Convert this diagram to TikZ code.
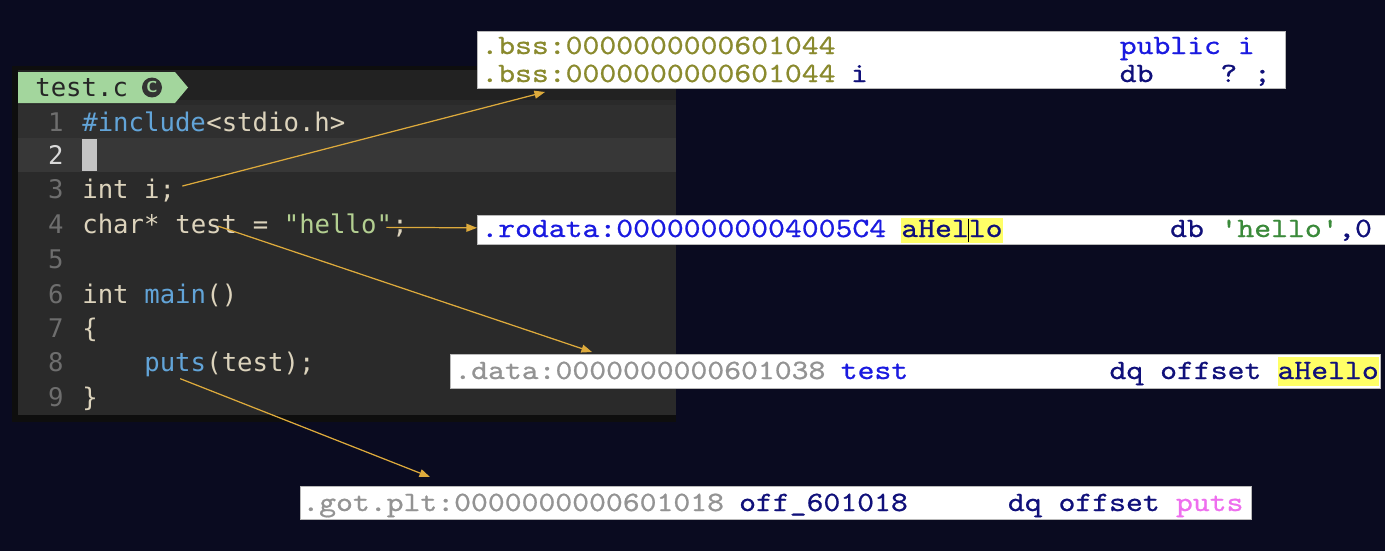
\documentclass[tikz,border=0pt]{standalone}
\usepackage{fontspec}
\newfontfamily\edfont{DejaVu Sans Mono}
\newfontfamily\idafont[Extension=.otf, FakeStretch=1.15, FakeBold=0.7]{lmmono10-regular}
\usetikzlibrary{calc,arrows.meta}

\definecolor{bgnavy}{HTML}{0A0B20}
\definecolor{edframe}{HTML}{0E0E0E}
\definecolor{edbar}{HTML}{222222}
\definecolor{edback}{HTML}{2A2A2A}
\definecolor{edrowa}{HTML}{2F2F2F}
\definecolor{edrowb}{HTML}{373737}
\definecolor{tabgreen}{HTML}{A3D69D}
\definecolor{codebeige}{HTML}{DCD3BC}
\definecolor{codeblue}{HTML}{62A4D8}
\definecolor{codegreen}{HTML}{B3CF91}
\definecolor{numgray}{HTML}{6E6E6E}
\definecolor{curgray}{HTML}{C4C4C4}
\definecolor{idaolive}{HTML}{8A8A2E}
\definecolor{idablue}{HTML}{1A1AE0}
\definecolor{idanavy}{HTML}{10107A}
\definecolor{idagreen}{HTML}{3A8A3A}
\definecolor{idagray}{HTML}{939393}
\definecolor{idapink}{HTML}{EE6EEE}
\definecolor{idayellow}{HTML}{FFFF66}
\definecolor{arrowgold}{HTML}{DDAA3C}

\tikzstyle{code} = [anchor=base west, inner sep=0pt, font=\edfont\fontsize{14.6}{17}\selectfont]
\tikzstyle{lineno} = [anchor=base east, inner sep=0pt, font=\edfont\fontsize{14.6}{17}\selectfont, text=numgray]
\tikzstyle{ida} = [anchor=base west, inner sep=0pt, font=\idafont\fontsize{15.9}{18}\selectfont]
\tikzstyle{idabox} = [anchor=north west, draw=gray!55, fill=white, line width=0.6pt, inner sep=0pt]
\tikzstyle{hilite} = [fill=idayellow, text=idanavy]
\tikzstyle{arrowdecorate}=[-{Triangle[length=6pt,width=4.5pt]},draw=arrowgold,fill=arrowgold,line width=0.7pt]

\begin{document}
\begin{tikzpicture}[x=0.02cm,y=-0.02cm]
      % background
      \fill[bgnavy] (0,0) rectangle (1385,551);
      \useasboundingbox (0,0) rectangle (1385,551);

      % editor window
      \fill[edframe] (12,66) rectangle (676,422);
      \fill[edbar] (18,70) rectangle (676,100);
      \fill[edback] (18,100) rectangle (676,415);
      \fill[edrowa] (18,105) rectangle (676,138);
      \fill[edrowb] (18,138) rectangle (676,172);
      \fill[tabgreen] (18,72) -- (175,72) -- (188,87.5) -- (175,103) -- (18,103) -- cycle;
      \node[code, text=black!85] (tab) at (35,96) {test.c};
      \node[circle, fill=black!80, inner sep=0pt, minimum size=0.4cm, text=tabgreen,
            font=\sffamily\bfseries\small] (cicon) at (152,87.5) {C};
      \fill[curgray] (82,139) rectangle (97,171);

      % line numbers
      \foreach \n/\y in {1/131, 3/198, 4/233, 5/268, 6/303, 7/337, 8/371, 9/406}
        \node[lineno] (n\n) at (64,\y) {\n};
      \node[lineno, text=black!15] (n2) at (64,164) {2};

      % source tokens
      \foreach \name/\col/\y/\clr/\txt in {
        incl/0/131/codeblue/{\#include}, hdr/8/131/codebeige/{<stdio.h>},
        vari/0/198/codebeige/{int i;},
        ptr/0/233/codebeige/{char*}, l4test/6/233/codebeige/{test},
        eq/11/233/codebeige/{=}, l4str/13/233/codegreen/{\char34hello\char34},
        semi/20/233/codebeige/{;},
        kint/0/303/codebeige/{int}, kmain/4/303/codeblue/{main}, paren/8/303/codebeige/{()},
        lbrace/0/337/codebeige/{\{},
        l8puts/4/371/codeblue/{puts}, call/8/371/codebeige/{(test);},
        rbrace/0/406/codebeige/{\}}}
      {
        \node[code, text=\clr] (\name) at (82+\col*15.5,\y) {\txt};
      }

      % disassembly boxes
      \node[idabox, minimum width=16.16cm, minimum height=1.14cm] (bssbox) at (477,31) {};
      \node[idabox, minimum width=18.16cm, minimum height=0.58cm] (rodbox) at (477,215) {};
      \node[idabox, minimum width=18.6cm, minimum height=0.68cm] (databox) at (450,354) {};
      \node[idabox, minimum width=19.02cm, minimum height=0.66cm] (gotbox) at (300,486) {};

      \node[ida, hilite, text height=0.38cm, text depth=0.12cm] (ahello) at (901,237) {aHello};
      \node[ida, hilite, text height=0.44cm, text depth=0.14cm] (dhello) at (1277.2,379) {aHello};
      \draw[black, line width=0.6pt] ($(ahello.south west)+(67.2,-1)$) -- ($(ahello.north west)+(67.2,1)$);

      \foreach \name/\x/\y/\clr/\txt in {
        bssa/481/54/idaolive/{.bss:0000000000601044}, pubi/1119.4/54/idablue/{public i},
        bssb/481/82/idaolive/{.bss:0000000000601044}, bssi/850.6/82/idanavy/{i},
        bssdb/1119.4/82/idanavy/{db}, bssq/1220/82/idanavy/{?}, bsss/1253.6/82/idanavy/{;},
        rod/481/237/idablue/{.rodata:00000000004005C4}, roddb/1169.8/237/idanavy/{db},
        rodstr/1220.2/237/idagreen/{\char39hello\char39}, rodz/1337.8/237/idanavy/{,0},
        dat/454/379/idagray/{.data:0000000000601038}, dtest/840.4/379/idablue/{test},
        ddq/1109.2/379/idanavy/{dq offset},
        got/302/511/idagray/{.got.plt:0000000000601018}, goff/738.8/511/idanavy/{off\_601018},
        gdq/1007.6/511/idanavy/{dq offset}, gputs/1175.6/511/idapink/{puts}}
      {
        \node[ida, text=\clr] (\name) at (\x,\y) {\txt};
      }

      % arrows
      \coordinate (varo) at ($(vari.east)+(7,-4)$);
      \coordinate (stro) at ($(l4str.east)+(-6,4)$);
      \coordinate (testo) at ($(l4test.center)+(12,2)$);
      \coordinate (putso) at ($(l8puts.south)+(5,2)$);
      \coordinate (bssin) at (545,92);
      \coordinate (datain) at (592,352);
      \coordinate (gotin) at (430,477);
      \path
      \foreach \startnode/\endnode in {varo/bssin, stro/rodbox, testo/datain, putso/gotin}
      {
        (\startnode) edge[arrowdecorate] (\endnode)
      };
\end{tikzpicture}
\end{document}
